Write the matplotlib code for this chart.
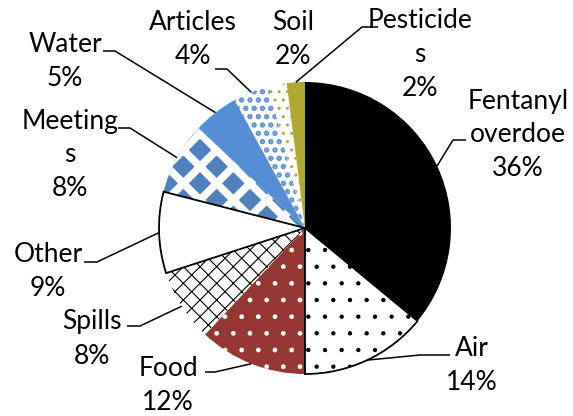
import matplotlib.pyplot as plt
import numpy as np

# data
categories = ["Fentanyl\noverdoe", "Air", "Food", "Spills", "Other",
              "Meeting\ns", "Water", "Articles", "Soil", "Pesticide\ns"]
percent = [36, 14, 12, 8, 9, 8, 5, 4, 2, 2]

# styling per slice: face, hatch, hatch colour, hatch lw, outline
faces = ["black", "white", "#963734", "white", "white",
         "#4F81BD", "#558ED5", "white", "white", "#B0A82E"]
hatches = [None, ".", ".", "xx", None, "x", None, "..", "..", None]
hatch_cols = ["black", "black", "white", "black", "black",
              "white", "#558ED5", "#5B8FD6", "#B0A82E", "#B0A82E"]
hatch_lws = [1, 0.7, 1.0, 0.8, 1, 5.5, 1, 2.6, 1.0, 1]
outlined = [False, True, False, False, True, False, False, False, False, False]

# label layout in pixel coords (y from top): text centre, elbow point, tail x
label_pos = [(518, 135), (472, 365), (168, 386), (92, 339), (48, 272),
             (70, 155), (65, 62), (193, 40), (293, 39), (420, 54)]
leader = [(453, 140, 466), (420, 355, 450), (215, 372, 205), (140, 326, 127),
          (97, 262, 84), (130, 128, 118), (115, 51, 103), (227, 69, 215),
          None, (362, 27, 378)]

W, H = 573, 416
cx, cy, R = 305, H - 228, 146

fig = plt.figure(figsize=(W / 100, H / 100), dpi=100)
ax = fig.add_axes([0, 0, 1, 1])

wedges, _ = ax.pie(percent, center=(cx, cy), radius=R, startangle=90,
                   counterclock=False, colors=faces,
                   wedgeprops=dict(linewidth=0), frame=True)
for w, h, hc, hl in zip(wedges, hatches, hatch_cols, hatch_lws):
    w.set_edgecolor(hc)
    w.set_linewidth(0)
    if h:
        w.set_hatch(h)
        if hasattr(w, "set_hatch_linewidth"):
            w.set_hatch_linewidth(hl)

# outlines on some slices
outl, _ = ax.pie(percent, center=(cx, cy), radius=R, startangle=90,
                 counterclock=False, frame=True,
                 wedgeprops=dict(fill=False, linewidth=1.3))
for w, o in zip(outl, outlined):
    w.set_edgecolor("black" if o else "none")

ax.set_xlim(0, W)
ax.set_ylim(0, H)
ax.set_aspect("equal")
ax.axis("off")

for w, lab, p, pos, ld in zip(wedges, categories, percent, label_pos, leader):
    ang = np.deg2rad((w.theta1 + w.theta2) / 2)
    ex, ey = cx + R * np.cos(ang), cy + R * np.sin(ang)
    ax.text(pos[0], H - pos[1], f"{lab}\n{p}%", ha="center", va="center",
            fontsize=19, family="Lato", linespacing=1.45, color="black")
    if ld:
        ax.plot([ld[2], ld[0], ex], [H - ld[1], H - ld[1], ey],
                color="black", lw=1.1, solid_capstyle="butt")

fig.savefig("out.png", dpi=100)
